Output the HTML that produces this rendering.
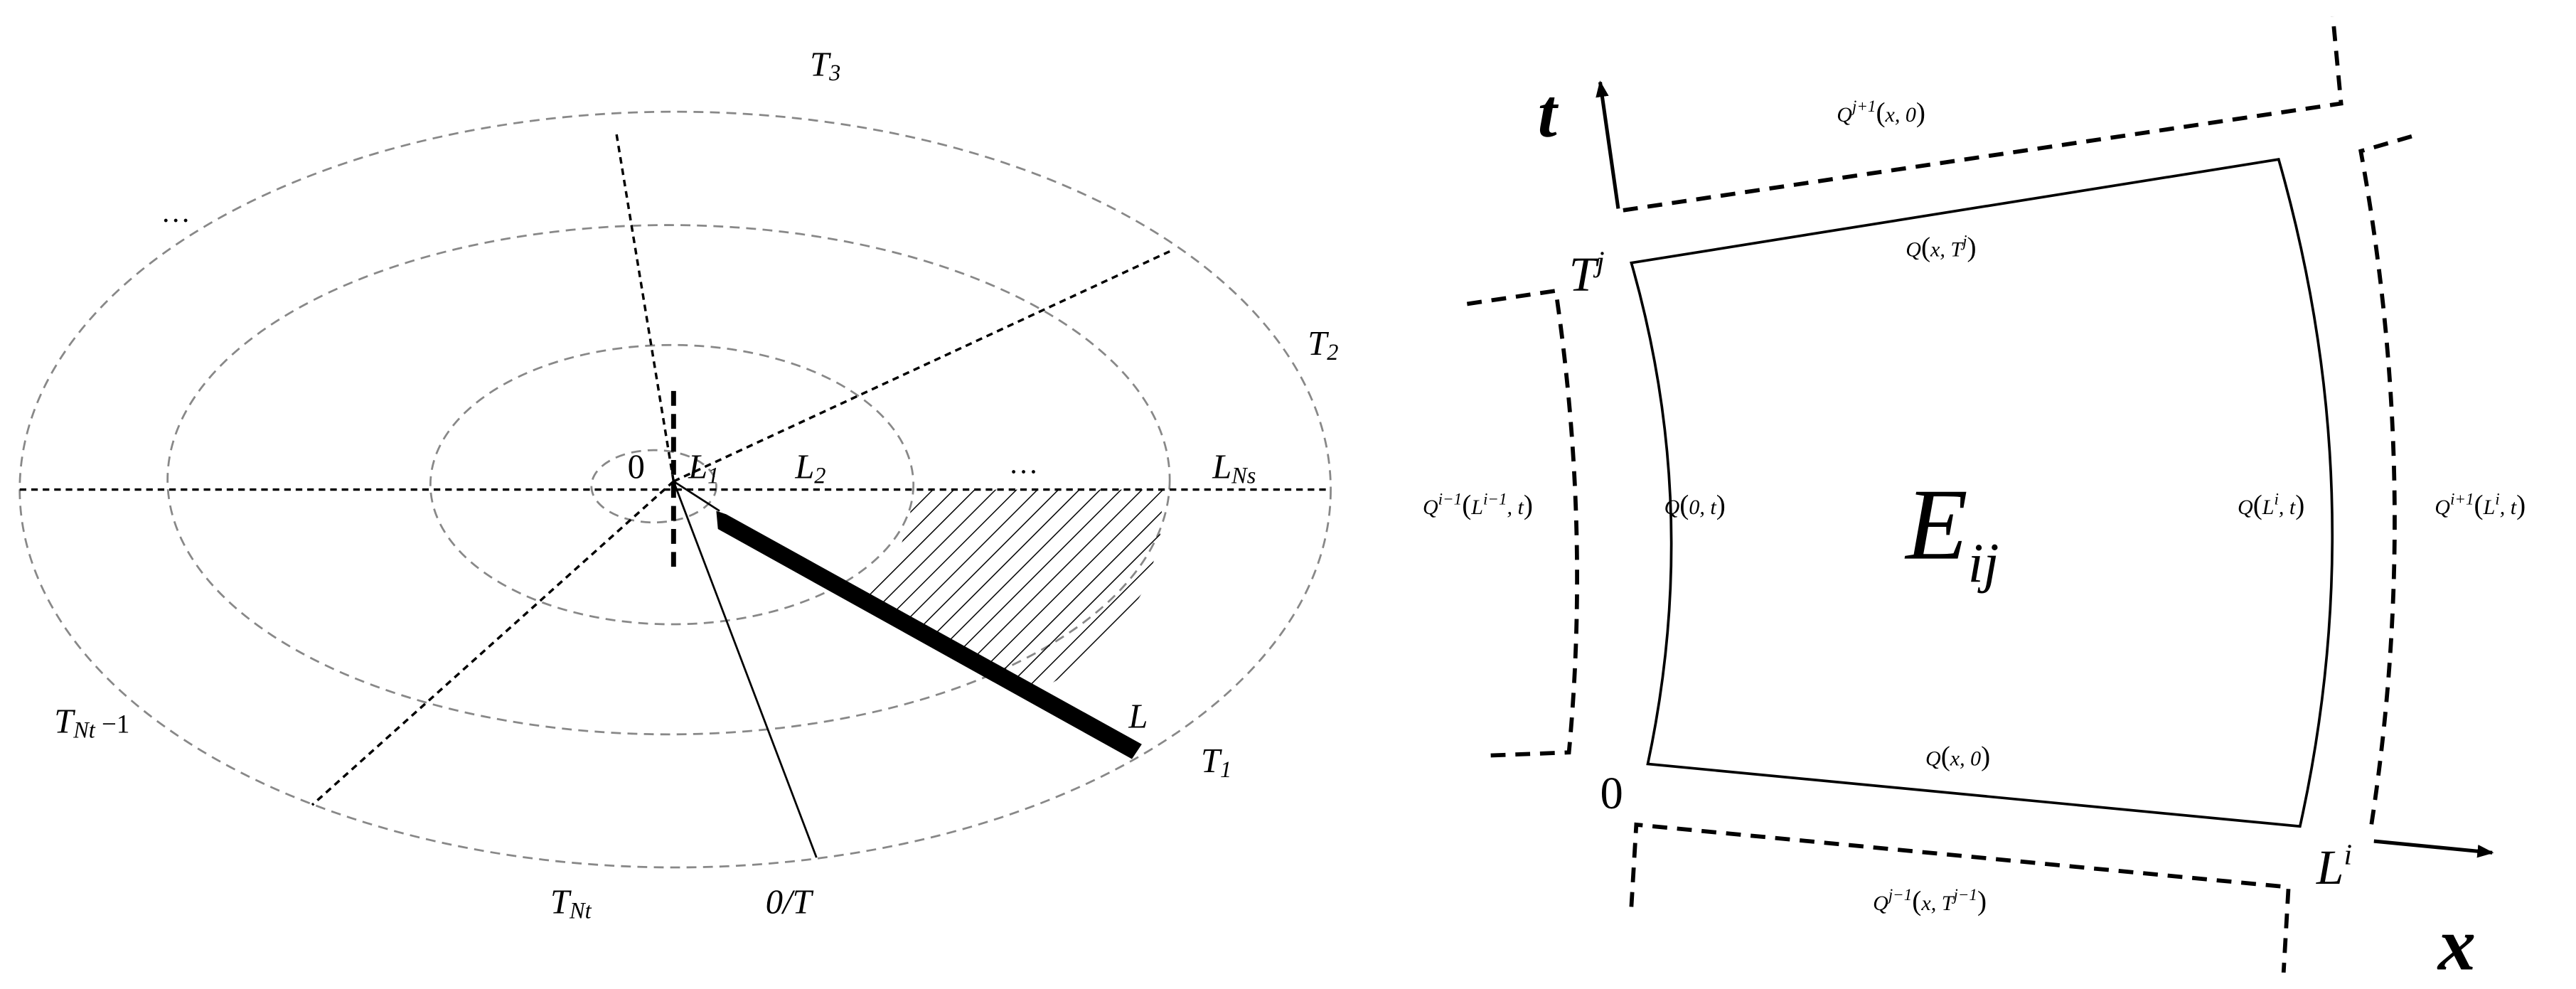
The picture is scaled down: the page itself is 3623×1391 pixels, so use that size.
<!DOCTYPE html>
<html><head><style>html,body{margin:0;padding:0;background:#fff}svg{display:block}
text{font-family:"Liberation Serif",serif;fill:#000}</style></head><body>
<svg width="3623" height="1391" viewBox="0 0 1568 602" preserveAspectRatio="none" xmlns="http://www.w3.org/2000/svg">
<defs>
<pattern id="h" width="9" height="9" patternUnits="userSpaceOnUse" patternTransform="rotate(45)">
<line x1="0" y1="0" x2="0" y2="9" stroke="#000" stroke-width="1.3"/></pattern>
<marker id="ar" markerWidth="10" markerHeight="10" refX="9" refY="5" orient="auto" markerUnits="userSpaceOnUse"><path d="M0,1 L10,5 L0,9 Z" fill="#000"/></marker>
</defs>
<g fill="none" stroke="#888" stroke-width="1.2" stroke-dasharray="6,4">
<ellipse cx="411" cy="298" rx="399" ry="230"/>
<ellipse cx="407" cy="292" rx="305" ry="155"/>
<ellipse cx="409" cy="295" rx="147" ry="85"/>
<ellipse cx="398" cy="296" rx="38" ry="22"/>
</g>
<path d="M556,298 L708,298 L706,330 L697,358 L680,385 L655,407 L630,422 L528,363 L545,340 L553,320 Z" fill="url(#h)"/>
<g stroke="#000" stroke-width="1.5" stroke-dasharray="4,3" fill="none">
<line x1="12" y1="298" x2="810" y2="298"/>
<line x1="410" y1="293" x2="375" y2="80"/>
<line x1="410" y1="293" x2="712" y2="153"/>
<line x1="410" y1="293" x2="190" y2="490"/>
</g>
<line x1="410" y1="238" x2="410" y2="345" stroke="#000" stroke-width="3" stroke-dasharray="9,5"/>
<line x1="410" y1="293" x2="497" y2="522" stroke="#000" stroke-width="1.2"/>
<line x1="410" y1="293" x2="438" y2="311" stroke="#000" stroke-width="1.2"/>
<polygon points="436,311 442,313 695,453 689,462 437,322" fill="#000"/>
<g font-style="italic" font-size="21">
<text x="493" y="46">T<tspan font-size="14" dy="3">3</tspan></text>
<text x="98" y="135" font-style="normal" font-size="18">…</text>
<text x="796" y="216">T<tspan font-size="14" dy="3">2</tspan></text>
<text x="382" y="291" font-style="normal">0</text>
<text x="419" y="291">L<tspan font-size="14" dy="3">1</tspan></text>
<text x="484" y="291">L<tspan font-size="14" dy="3">2</tspan></text>
<text x="614" y="288" font-style="normal" font-size="18">…</text>
<text x="738" y="291">L<tspan font-size="14" dy="3">Ns</tspan></text>
<text x="33" y="446">T<tspan font-size="14" dy="3">Nt</tspan><tspan dy="-3" font-style="normal" font-size="16"> −1</tspan></text>
<text x="687" y="443">L</text>
<text x="731" y="470">T<tspan font-size="14" dy="3">1</tspan></text>
<text x="335" y="556">T<tspan font-size="14" dy="3">Nt</tspan></text>
<text x="466" y="556">0/T</text>
</g>
<path d="M993,160 L1387,97 Q1445,300 1400,503 L1003,465 Q1036,310 993,160 Z" fill="none" stroke="#000" stroke-width="1.6"/>
<g fill="none" stroke="#000" stroke-width="2.5" stroke-dasharray="9,6">
<path d="M988,128 L1425,63 L1420,10"/>
<path d="M1468,83 L1437,92 Q1475,300 1443,505"/>
<path d="M893,185 L947,177 Q968,320 955,458 L903,460"/>
<path d="M993,552 L996,502 L1393,540 L1390,592"/>
</g>
<line x1="985" y1="127" x2="974" y2="50" stroke="#000" stroke-width="2.2" marker-end="url(#ar)"/>
<line x1="1445" y1="512" x2="1517" y2="519" stroke="#000" stroke-width="2.2" marker-end="url(#ar)"/>
<text x="936" y="83" font-style="italic" font-weight="bold" font-size="42">t</text>
<text x="1484" y="590" font-style="italic" font-weight="bold" font-size="46">x</text>
<g font-style="italic" font-size="13">
<text x="1118" y="74">Q<tspan font-size="10" dy="-6">j+1</tspan><tspan dy="6" font-style="normal" font-size="17">(</tspan>x, 0<tspan font-style="normal" font-size="17">)</tspan></text>
<text x="1160" y="156">Q<tspan font-style="normal" font-size="17">(</tspan>x, T<tspan font-size="10" dy="-6">j</tspan><tspan dy="6" font-style="normal" font-size="17">)</tspan></text>
<text x="1013" y="313">Q<tspan font-style="normal" font-size="17">(</tspan>0, t<tspan font-style="normal" font-size="17">)</tspan></text>
<text x="1362" y="313">Q<tspan font-style="normal" font-size="17">(</tspan>L<tspan font-size="10" dy="-6">i</tspan><tspan dy="6">, t</tspan><tspan font-style="normal" font-size="17">)</tspan></text>
<text x="1482" y="313">Q<tspan font-size="10" dy="-6">i+1</tspan><tspan dy="6" font-style="normal" font-size="17">(</tspan>L<tspan font-size="10" dy="-6">i</tspan><tspan dy="6">, t</tspan><tspan font-style="normal" font-size="17">)</tspan></text>
<text x="866" y="313">Q<tspan font-size="10" dy="-6">i−1</tspan><tspan dy="6" font-style="normal" font-size="17">(</tspan>L<tspan font-size="10" dy="-6">i−1</tspan><tspan dy="6">, t</tspan><tspan font-style="normal" font-size="17">)</tspan></text>
<text x="1172" y="466">Q<tspan font-style="normal" font-size="17">(</tspan>x, 0<tspan font-style="normal" font-size="17">)</tspan></text>
<text x="1140" y="554">Q<tspan font-size="10" dy="-6">j−1</tspan><tspan dy="6" font-style="normal" font-size="17">(</tspan>x, T<tspan font-size="10" dy="-6">j−1</tspan><tspan dy="6" font-style="normal" font-size="17">)</tspan></text>
</g>
<text x="955" y="177" font-style="italic" font-size="30">T<tspan font-size="18" dy="-12">j</tspan></text>
<text x="974" y="492" font-size="28">0</text>
<text x="1410" y="538" font-style="italic" font-size="30">L<tspan font-size="18" dy="-12">i</tspan></text>
<text x="1160" y="340" font-style="italic" font-size="62">E<tspan font-size="34" dy="14">ij</tspan></text>
</svg>
</body></html>
